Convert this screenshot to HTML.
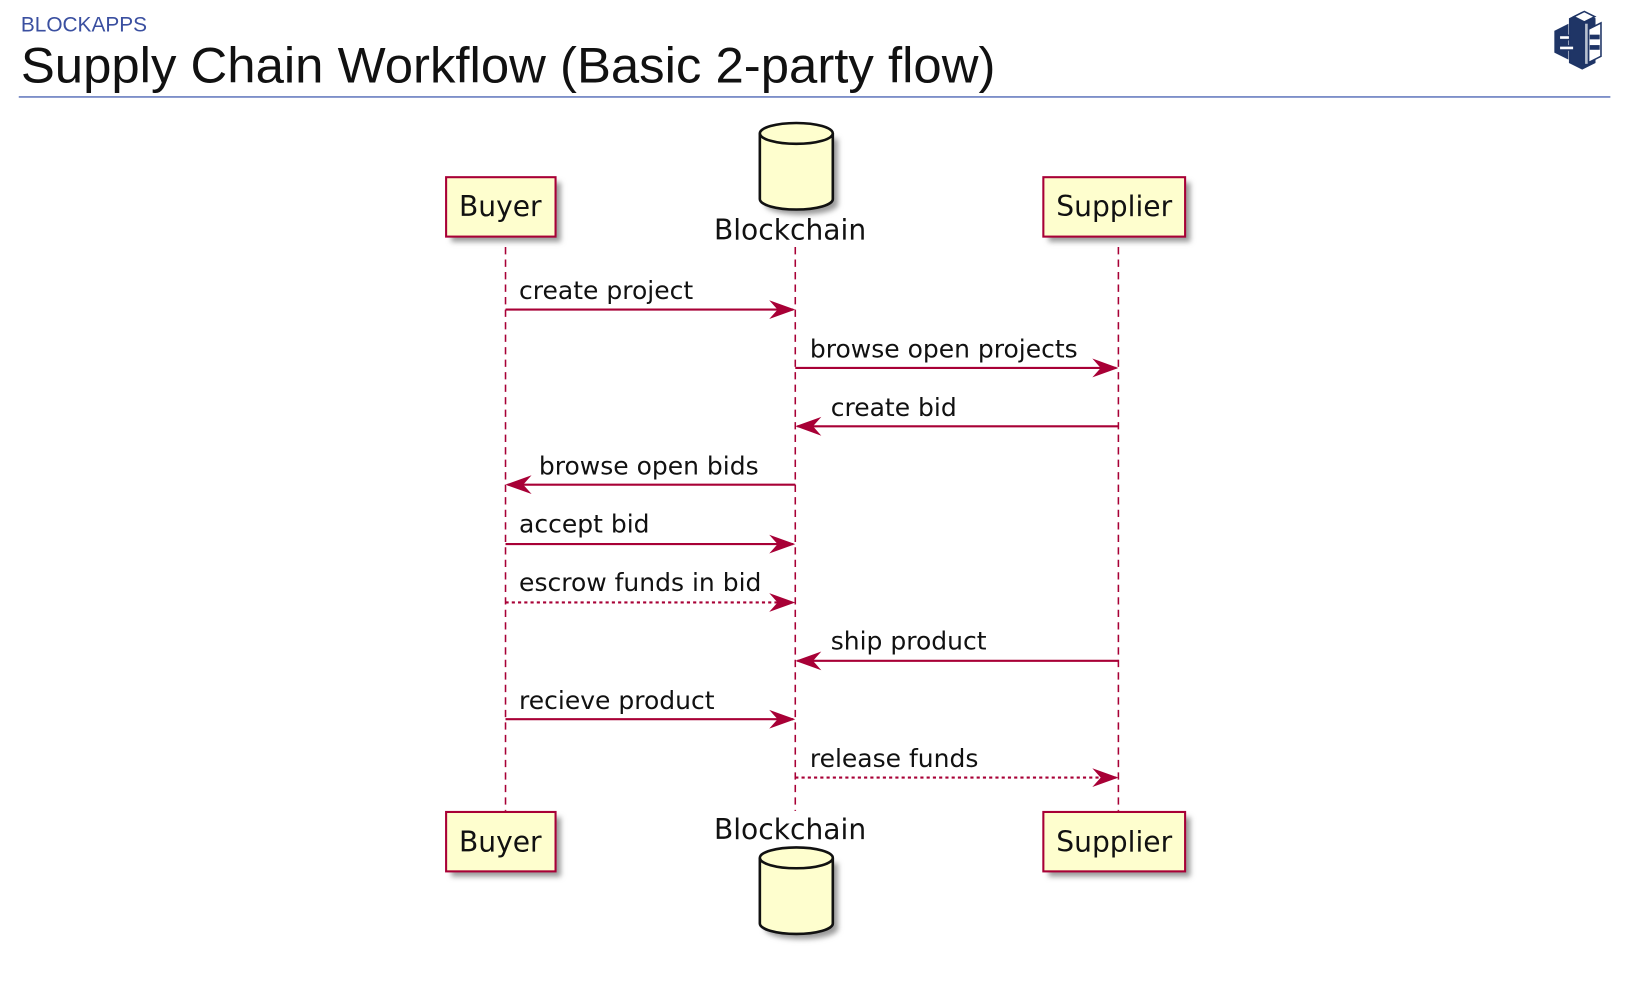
<!DOCTYPE html>
<html><head><meta charset="utf-8"><style>
html,body{margin:0;padding:0;background:#fff;}
svg{display:block;}
text{font-family:"DejaVu Sans","Liberation Sans",sans-serif;fill:#111;}
</style></head><body>
<svg width="1626" height="1000" viewBox="0 0 1560 959.4" preserveAspectRatio="none" xmlns="http://www.w3.org/2000/svg">
<defs>
<filter id="sh" x="-20%" y="-20%" width="150%" height="150%"><feGaussianBlur stdDeviation="2.5"/></filter>
</defs>
<text x="20" y="30" style="font-family:'Liberation Sans',sans-serif;font-size:20px;fill:#3a4fa0">BLOCKAPPS</text>
<text x="20" y="79" textLength="935" lengthAdjust="spacingAndGlyphs" style="font-family:'Liberation Sans',sans-serif;font-size:48px;fill:#111">Supply Chain Workflow (Basic 2-party flow)</text>
<line x1="18" y1="93" x2="1545" y2="93" stroke="#6a7fc0" stroke-width="1.5"/>
<g transform="translate(1488,10)" stroke="#1f3566" stroke-width="1.5">
<polygon points="18,8 30,2 42,8 42,50 30,56 18,50" fill="#1f3566"/>
<polygon points="4,20 16,14 16,46 4,40" fill="#1f3566"/>
<polygon points="36,18 48,12 48,44 36,50" fill="#fff"/>
<polygon points="22,6 32,1 42,6 32,11" fill="#fff"/>
<rect x="8" y="24" width="10" height="4" fill="#fff"/>
<rect x="8" y="34" width="14" height="4" fill="#fff"/>
<rect x="38" y="24" width="8" height="3" fill="#1f3566"/>
<rect x="38" y="34" width="8" height="3" fill="#1f3566"/>
<rect x="32" y="12" width="4" height="40" fill="#b8c0d0"/>
</g>
<g stroke="#a80036" stroke-width="1.5" stroke-dasharray="7,5">
<line x1="485" y1="237" x2="485" y2="778"/>
<line x1="763" y1="237" x2="763" y2="778"/>
<line x1="1073" y1="237" x2="1073" y2="778"/>
</g>
<g>
<rect x="433" y="175" width="105" height="57" fill="#999" filter="url(#sh)"/>
<rect x="428" y="170" width="105" height="57" fill="#fefece" stroke="#a80036" stroke-width="2"/>
<text x="480" y="207" text-anchor="middle" font-size="27">Buyer</text>
<rect x="1006" y="175" width="136" height="57" fill="#999" filter="url(#sh)"/>
<rect x="1001" y="170" width="136" height="57" fill="#fefece" stroke="#a80036" stroke-width="2"/>
<text x="1069" y="207" text-anchor="middle" font-size="27">Supplier</text>
<rect x="433" y="784" width="105" height="57" fill="#999" filter="url(#sh)"/>
<rect x="428" y="779" width="105" height="57" fill="#fefece" stroke="#a80036" stroke-width="2"/>
<text x="480" y="817" text-anchor="middle" font-size="27">Buyer</text>
<rect x="1006" y="784" width="136" height="57" fill="#999" filter="url(#sh)"/>
<rect x="1001" y="779" width="136" height="57" fill="#fefece" stroke="#a80036" stroke-width="2"/>
<text x="1069" y="817" text-anchor="middle" font-size="27">Supplier</text>
</g>
<g>
<path d="M734,133 L734,196 A35,10 0 0 0 804,196 L804,133 Z" fill="#999" filter="url(#sh)"/>
<path d="M729,128 L729,191 A35,10 0 0 0 799,191 L799,128 A35,10 0 0 0 729,128 Z" fill="#fefece" stroke="#111" stroke-width="2.5"/>
<path d="M729,128 A35,10 0 0 0 799,128" fill="none" stroke="#111" stroke-width="2.5"/>
<text x="758" y="230" text-anchor="middle" font-size="27">Blockchain</text>
<path d="M734,828 L734,891 A35,10 0 0 0 804,891 L804,828 Z" fill="#999" filter="url(#sh)"/>
<path d="M729,823 L729,886 A35,10 0 0 0 799,886 L799,823 A35,10 0 0 0 729,823 Z" fill="#fefece" stroke="#111" stroke-width="2.5"/>
<path d="M729,823 A35,10 0 0 0 799,823" fill="none" stroke="#111" stroke-width="2.5"/>
<text x="758" y="805" text-anchor="middle" font-size="27">Blockchain</text>
</g>
<g stroke="#a80036" stroke-width="2" fill="none">
<line x1="485" y1="297" x2="761" y2="297"/>
<line x1="763" y1="353" x2="1071" y2="353"/>
<line x1="765" y1="409" x2="1073" y2="409"/>
<line x1="487" y1="465" x2="763" y2="465"/>
<line x1="485" y1="522" x2="761" y2="522"/>
<line x1="485" y1="578" x2="761" y2="578" stroke-dasharray="3,3"/>
<line x1="765" y1="634" x2="1073" y2="634"/>
<line x1="485" y1="690" x2="761" y2="690"/>
<line x1="763" y1="746" x2="1071" y2="746" stroke-dasharray="3,3"/>
</g>
<g fill="#a80036">
<path d="M763,297 l-25,-9 l8,9 l-8,9 z"/>
<path d="M1073,353 l-25,-9 l8,9 l-8,9 z"/>
<path d="M763,409 l25,-9 l-8,9 l8,9 z"/>
<path d="M485,465 l25,-9 l-8,9 l8,9 z"/>
<path d="M763,522 l-25,-9 l8,9 l-8,9 z"/>
<path d="M763,578 l-25,-9 l8,9 l-8,9 z"/>
<path d="M763,634 l25,-9 l-8,9 l8,9 z"/>
<path d="M763,690 l-25,-9 l8,9 l-8,9 z"/>
<path d="M1073,746 l-25,-9 l8,9 l-8,9 z"/>
</g>
<g font-size="24">
<text x="498" y="287">create project</text>
<text x="777" y="343">browse open projects</text>
<text x="797" y="399">create bid</text>
<text x="517" y="455">browse open bids</text>
<text x="498" y="511">accept bid</text>
<text x="498" y="567">escrow funds in bid</text>
<text x="797" y="623">ship product</text>
<text x="498" y="680">recieve product</text>
<text x="777" y="736">release funds</text>
</g>
</svg>
</body></html>
